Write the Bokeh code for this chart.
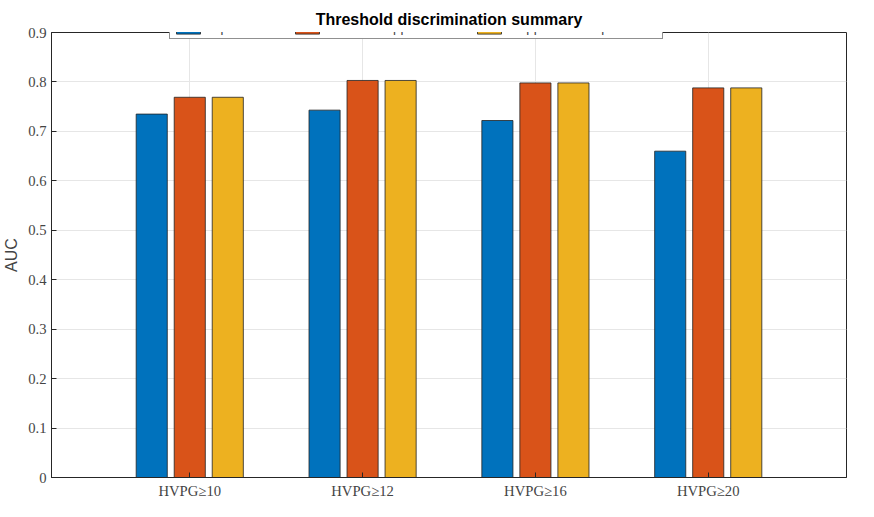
from bokeh.plotting import figure
from bokeh.models import Legend, LegendItem, FixedTicker, Range1d
from bokeh.embed import file_html
from bokeh.resources import INLINE

categories = ["HVPG≥10", "HVPG≥12", "HVPG≥16", "HVPG≥20"]
equal = [0.735, 0.743, 0.722, 0.660]
learned = [0.769, 0.803, 0.798, 0.788]
mapped = [0.769, 0.803, 0.798, 0.788]
series = [("Equal burden", equal, "#0072BD"),
          ("Learned capped burden", learned, "#D95319"),
          ("Mapped HVPG prediction", mapped, "#EDB120")]
offsets = [-0.22, 0.0, 0.22]

p = figure(width=858, height=501, output_backend="svg", toolbar_location=None,
           x_range=Range1d(0.2, 4.8), y_range=Range1d(0, 0.9))
p.title.text = "Threshold discrimination summary"
p.title.align = "center"
p.title.text_font = "Liberation Sans"
p.title.text_font_size = "12pt"
p.title.text_font_style = "bold"
p.title.text_color = "#000000"
p.min_border_top = 32

xs = list(range(1, len(categories) + 1))
items = []
for (name, vals, col), off in zip(series, offsets):
    r = p.vbar(x=[x + off for x in xs], top=vals, width=0.18, fill_color=col,
               line_color="#222222", line_width=0.8)
    items.append(LegendItem(label=name, renderers=[r]))

leg = Legend(items=items, orientation="horizontal", location=(118, 438),
             label_text_font="Liberation Sans", label_text_font_size="10pt",
             border_line_color="#222222", glyph_width=30, glyph_height=14,
             spacing=6, padding=3, margin=0, label_standoff=4,
             background_fill_alpha=1)
p.add_layout(leg, "center")

p.xaxis.ticker = FixedTicker(ticks=xs)
p.xaxis.major_label_overrides = {x: c for x, c in zip(xs, categories)}
p.yaxis.ticker = FixedTicker(ticks=[i / 10 for i in range(10)])
p.yaxis.major_label_overrides = {0: "0"}
for ax in (p.xaxis, p.yaxis):
    ax.major_label_text_font = "Liberation Serif"
    ax.major_label_text_font_size = "11pt"
    ax.major_tick_in = 5
    ax.major_tick_out = 0
    ax.minor_tick_line_color = None
    ax.axis_line_color = "#262626"
    ax.major_tick_line_color = "#262626"
p.yaxis.axis_label = "AUC"
p.yaxis.axis_label_text_font = "Liberation Sans"
p.yaxis.axis_label_text_font_style = "normal"
p.yaxis.axis_label_text_font_size = "12pt"
p.grid.grid_line_color = "#e6e6e6"
p.outline_line_color = "#262626"
p.min_border_right = 12

open("out.html", "w").write(file_html(p, INLINE))
